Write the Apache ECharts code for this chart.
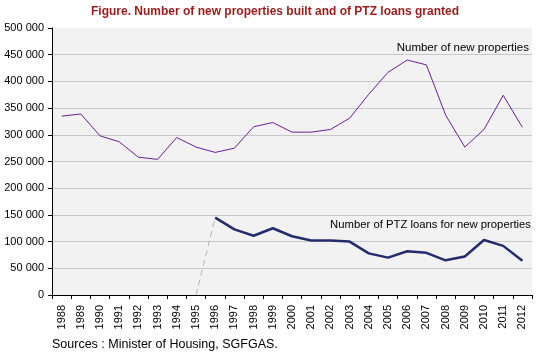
<!DOCTYPE html>
<html>
<head>
<meta charset="utf-8">
<script src="https://cdn.jsdelivr.net/npm/echarts@6/dist/echarts.min.js"></script>
<style>
  html, body { margin: 0; padding: 0; background: #fff; }
  #chart { width: 550px; height: 353px; }
</style>
</head>
<body>
<div id="chart"></div>
<script>
// Years on the x axis
const years = ['1988','1989','1990','1991','1992','1993','1994','1995','1996','1997','1998','1999',
  '2000','2001','2002','2003','2004','2005','2006','2007','2008','2009','2010','2011','2012'];

// Number of new properties
const newProperties = [335000, 339000, 298000, 287000, 258000, 254000, 295000, 277000, 267000, 275000, 315000, 323000,
  305000, 305000, 310000, 331000, 376000, 417000, 440000, 431000, 337000, 277000, 310000, 374000, 314000];

// Number of PTZ loans for new properties (scheme starts in 1996)
const ptzLoans = [null, null, null, null, null, null, null, null, 145000, 123000, 111000, 125000,
  110000, 102000, 102000, 100000, 78000, 70000, 82000, 79000, 65000, 72000, 103000, 92000, 64000];

// Dashed link between 1995 (no loans) and first year of the scheme
const ptzStart = [null, null, null, null, null, null, null, 0, 145000];

const yTicks = { min: 0, max: 500000, interval: 50000 };

const fmtThousands = (v) => String(v).replace(/\B(?=(\d{3})+(?!\d))/g, ' ');

const font = 'Liberation Sans';
const chart = echarts.init(document.getElementById('chart'));
chart.setOption({
  animation: false,
  textStyle: { fontFamily: font },
  title: {
    text: 'Figure. Number of new properties built and of PTZ loans granted',
    left: 'center',
    top: 1,
    textStyle: { fontFamily: font, fontSize: 12, fontWeight: 'bold', color: '#9b1b1b' }
  },
  grid: {
    left: 52, right: 18, top: 28, bottom: 58,
    show: true, backgroundColor: '#f2f2f2', borderWidth: 0
  },
  xAxis: {
    type: 'category',
    data: years,
    boundaryGap: true,
    axisLine: { lineStyle: { color: '#000', width: 1 } },
    axisTick: { show: true, length: 4, lineStyle: { color: '#000' } },
    axisLabel: { rotate: 90, fontSize: 11, color: '#000', margin: 10, interval: 0, fontFamily: font }
  },
  yAxis: {
    type: 'value',
    min: yTicks.min, max: yTicks.max, interval: yTicks.interval,
    axisLine: { show: true, lineStyle: { color: '#000', width: 1 } },
    axisTick: { show: true, length: 4, lineStyle: { color: '#000' } },
    axisLabel: { fontSize: 11, color: '#000', margin: 8, fontFamily: font, formatter: fmtThousands },
    splitLine: { show: true, showMaxLine: false, lineStyle: { color: '#c8c8c8', width: 1 } }
  },
  series: [
    {
      name: 'Number of new properties',
      type: 'line',
      data: newProperties,
      symbol: 'none',
      lineStyle: { color: '#6b1f96', width: 1 },
      z: 3
    },
    {
      name: 'PTZ start',
      type: 'line',
      data: ptzStart,
      symbol: 'none',
      lineStyle: { color: '#b4b4b4', width: 1, type: [6, 4] },
      z: 2
    },
    {
      name: 'Number of PTZ loans for new properties',
      type: 'line',
      data: ptzLoans,
      symbol: 'none',
      lineStyle: { color: '#262b6d', width: 2.5 },
      z: 4
    }
  ],
  graphic: [
    {
      type: 'text', right: 21, top: 42,
      style: { text: 'Number of new properties', fontFamily: font, fontSize: 11.5, fill: '#000' }
    },
    {
      type: 'text', right: 19, top: 219,
      style: { text: 'Number of PTZ loans for new properties', fontFamily: font, fontSize: 11.3, fill: '#000' }
    },
    {
      type: 'text', left: 52, top: 338,
      style: { text: 'Sources : Minister of Housing, SGFGAS.', fontFamily: font, fontSize: 12.5, fill: '#000' }
    }
  ]
});
</script>
</body>
</html>
